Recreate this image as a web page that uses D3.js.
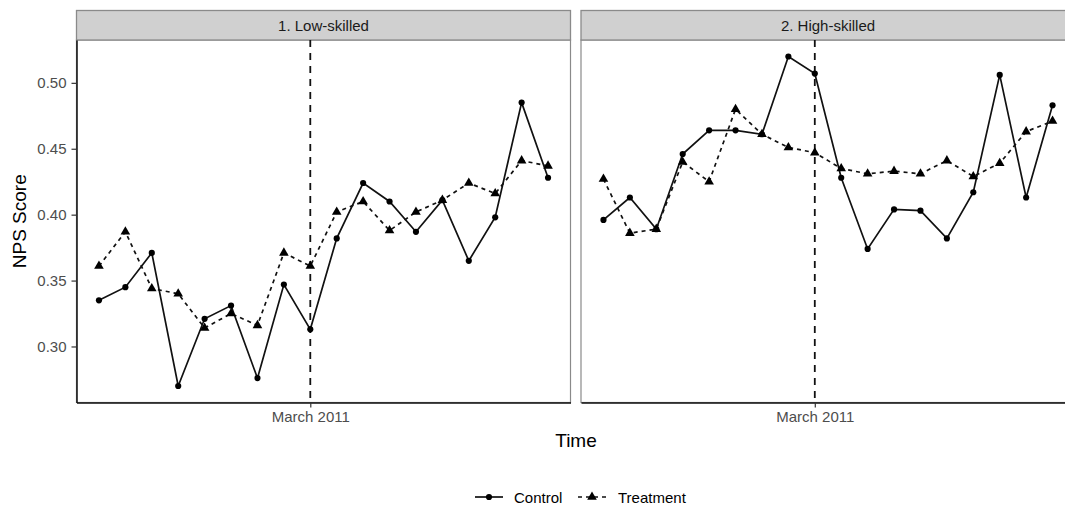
<!DOCTYPE html>
<html>
<head>
<meta charset="utf-8">
<script src="https://cdn.jsdelivr.net/npm/d3@7"></script>
<style>
  html, body { margin: 0; padding: 0; background: #fff; }
  svg { display: block; font-family: "Liberation Sans", Arial, Helvetica, sans-serif; }
</style>
</head>
<body>
<svg id="chart" width="1065" height="506"></svg>
<script>
// ---- data ----
const months = ["Jul 2010","Aug 2010","Sep 2010","Oct 2010","Nov 2010","Dec 2010","Jan 2011","Feb 2011","March 2011",
                "Apr 2011","May 2011","Jun 2011","Jul 2011","Aug 2011","Sep 2011","Oct 2011","Nov 2011","Dec 2011"];
const panels = ["1. Low-skilled", "2. High-skilled"];
const series = ["Control", "Treatment"];
const lowControl   = [0.335,0.345,0.371,0.270,0.321,0.331,0.276,0.347,0.313,0.382,0.424,0.410,0.387,0.411,0.365,0.398,0.485,0.428];
const lowTreatment = [0.361,0.387,0.344,0.340,0.314,0.325,0.316,0.371,0.361,0.402,0.410,0.388,0.402,0.411,0.424,0.416,0.441,0.437];
const highControl  = [0.396,0.413,0.389,0.446,0.464,0.464,0.461,0.520,0.507,0.428,0.374,0.404,0.403,0.382,0.417,0.506,0.413,0.483];
const highTreatment= [0.427,0.386,0.389,0.440,0.425,0.480,0.461,0.451,0.447,0.435,0.431,0.433,0.431,0.441,0.429,0.439,0.463,0.471];
const xTickLabels = ["March 2011"];
const yTicks = [0.30, 0.35, 0.40, 0.45, 0.50];
const cutoff = "March 2011";

const panelData = [
  { name: panels[0], Control: lowControl,  Treatment: lowTreatment },
  { name: panels[1], Control: highControl, Treatment: highTreatment }
];

// ---- layout ----
const svg = d3.select("#chart");
const stripTop = 10.5, panelTop = 40, panelBottom = 402.5;
const panelLefts = [76.5, 581];
const panelW = 494;
const smallFont = 15, titleFont = 19;

const allVals = lowControl.concat(lowTreatment, highControl, highTreatment);
const yMin = d3.min(allVals), yMax = d3.max(allVals);
const yPad = (yMax - yMin) * 0.05;
const y = d3.scaleLinear().domain([yMin - yPad, yMax + yPad]).range([panelBottom, panelTop]);

const n = months.length;
const xPad = (n - 1) * 0.05;

const styles = {
  Control:   { dash: null,  symbol: d3.symbolCircle,   size: 30 },
  Treatment: { dash: "4,4", symbol: d3.symbolTriangle, size: 40 }
};

panelData.forEach((pd, pi) => {
  const left = panelLefts[pi];
  const x = d3.scaleLinear().domain([-xPad, n - 1 + xPad]).range([left, left + panelW]);
  const g = svg.append("g");

  // panel background and border
  g.append("rect").attr("x", left).attr("y", panelTop).attr("width", panelW).attr("height", panelBottom - panelTop)
    .attr("fill", "#fff").attr("stroke", "#8a8a8a").attr("stroke-width", 1.2);

  // strip
  g.append("rect").attr("x", left).attr("y", stripTop).attr("width", panelW).attr("height", panelTop - stripTop)
    .attr("fill", "#d0d0d0").attr("stroke", "#8a8a8a").attr("stroke-width", 1.3);
  g.append("text").attr("x", left + panelW / 2).attr("y", (stripTop + panelTop) / 2 + 0.5)
    .attr("text-anchor", "middle").attr("dominant-baseline", "central")
    .attr("font-size", smallFont).attr("fill", "#1a1a1a").text(pd.name);

  // x axis
  const xAxis = d3.axisBottom(x)
    .tickValues(xTickLabels.map(l => months.indexOf(l)))
    .tickFormat(i => months[i]).tickSize(5).tickSizeOuter(0).tickPadding(4);
  const xa = g.append("g").attr("transform", `translate(0,${panelBottom})`).call(xAxis);
  xa.select(".domain").attr("stroke", "#111").attr("stroke-width", 1.5);
  xa.selectAll(".tick line").attr("stroke", "#333").attr("stroke-width", 1.2);
  xa.selectAll(".tick text").attr("font-size", smallFont).attr("fill", "#4d4d4d").attr("font-family", "Liberation Sans, Arial, sans-serif");

  // y axis on first panel only
  if (pi === 0) {
    const yAxis = d3.axisLeft(y).tickValues(yTicks).tickFormat(d3.format(".2f"))
      .tickSize(5).tickSizeOuter(0).tickPadding(5);
    const ya = g.append("g").attr("transform", `translate(${left},0)`).call(yAxis);
    ya.select(".domain").attr("stroke", "#111").attr("stroke-width", 1.5);
    ya.selectAll(".tick line").attr("stroke", "#333").attr("stroke-width", 1.2);
    ya.selectAll(".tick text").attr("font-size", smallFont).attr("fill", "#4d4d4d").attr("font-family", "Liberation Sans, Arial, sans-serif");
  }

  // cutoff vertical dashed line
  const ci = months.indexOf(cutoff);
  g.append("line").attr("x1", x(ci)).attr("x2", x(ci)).attr("y1", panelTop).attr("y2", panelBottom)
    .attr("stroke", "#111").attr("stroke-width", 1.8).attr("stroke-dasharray", "7,6");

  // series
  series.forEach(s => {
    const vals = pd[s];
    const line = d3.line().x((d, i) => x(i)).y(d => y(d));
    g.append("path").datum(vals).attr("d", line).attr("fill", "none")
      .attr("stroke", "#111").attr("stroke-width", 1.7)
      .attr("stroke-dasharray", styles[s].dash);
    const sym = d3.symbol().type(styles[s].symbol).size(styles[s].size);
    g.selectAll(null).data(vals).enter().append("path")
      .attr("d", sym).attr("transform", (d, i) => `translate(${x(i)},${y(d)})`)
      .attr("fill", "#000");
  });
});

// axis titles
svg.append("text").attr("x", 576).attr("y", 440).attr("text-anchor", "middle").attr("dominant-baseline", "central")
  .attr("font-size", titleFont).attr("fill", "#000").text("Time");
svg.append("text").attr("transform", `translate(19,${(panelTop + panelBottom) / 2}) rotate(-90)`)
  .attr("text-anchor", "middle").attr("dominant-baseline", "central")
  .attr("font-size", titleFont).attr("fill", "#000").text("NPS Score");

// legend
const legY = 497;
const legendItems = [
  { s: series[0], x0: 475, tx: 514 },
  { s: series[1], x0: 578, tx: 618 }
];
legendItems.forEach(it => {
  svg.append("line").attr("x1", it.x0).attr("x2", it.x0 + 28).attr("y1", legY).attr("y2", legY)
    .attr("stroke", "#111").attr("stroke-width", 1.7).attr("stroke-dasharray", styles[it.s].dash);
  svg.append("path").attr("d", d3.symbol().type(styles[it.s].symbol).size(styles[it.s].size))
    .attr("transform", `translate(${it.x0 + 14},${legY})`).attr("fill", "#000");
  svg.append("text").attr("x", it.tx).attr("y", legY).attr("dominant-baseline", "central")
    .attr("font-size", smallFont).attr("fill", "#000").text(it.s);
});
</script>
</body>
</html>
